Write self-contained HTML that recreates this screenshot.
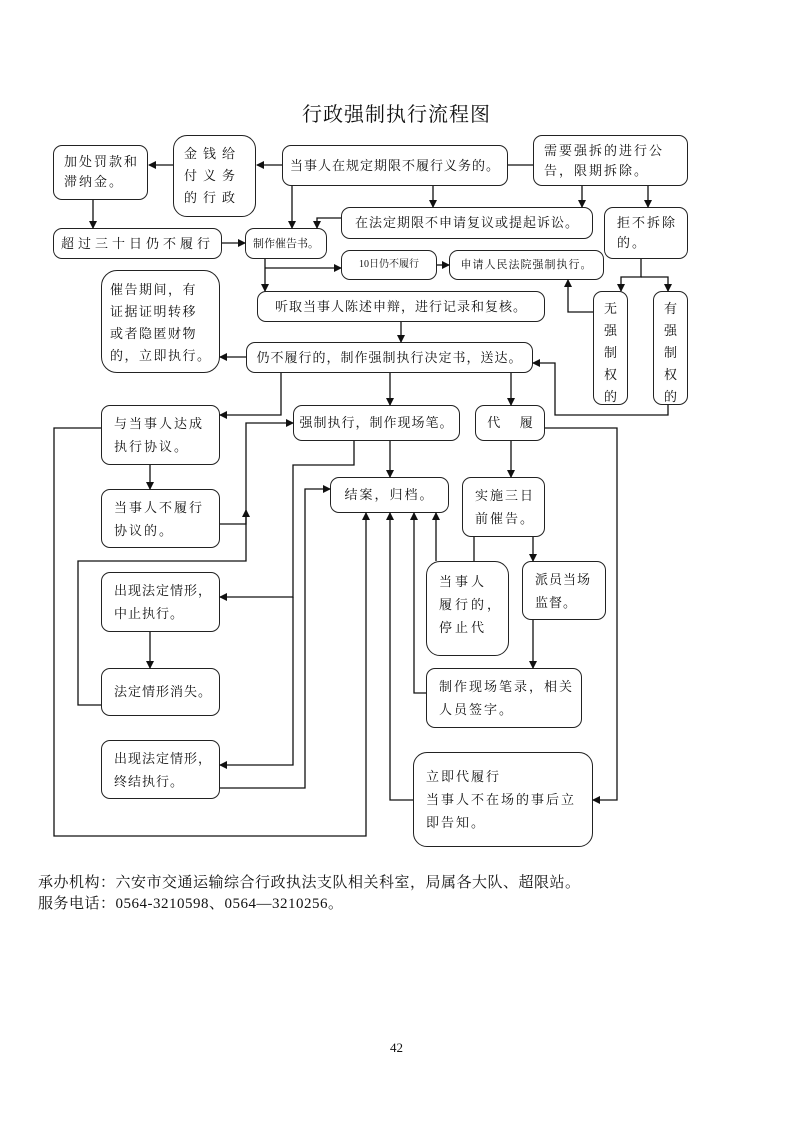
<!DOCTYPE html>
<html><head><meta charset="utf-8"><style>
body{margin:0;width:793px;height:1122px;background:#fff;position:relative;font-family:"Liberation Serif","Noto Serif CJK SC","Noto Sans CJK SC",serif;color:#111;overflow:hidden}
.b{position:absolute;border:1.3px solid #222;border-radius:9px;box-sizing:border-box;font-size:13px;line-height:20px;padding:4px 8px;letter-spacing:1px;white-space:nowrap}
.c{display:flex;align-items:center;justify-content:center;text-align:center}
svg{position:absolute;left:0;top:0}
</style></head><body>
<div style="position:absolute;left:0;width:793px;top:98px;text-align:center;font-size:20px;letter-spacing:1px">行政强制执行流程图</div>

<div class="b" style="left:53px;top:145px;width:95px;height:55px;padding:6px 10px;letter-spacing:2px">加处罚款和<br>滞纳金。</div>
<div class="b" style="left:173px;top:135px;width:83px;height:82px;padding:7px 10px;letter-spacing:6px;line-height:22px;border-radius:14px">金钱给<br>付义务<br>的行政</div>
<div class="b c" style="left:282px;top:145px;width:226px;height:41px">当事人在规定期限不履行义务的。</div>
<div class="b" style="left:533px;top:135px;width:155px;height:51px;padding:5px 10px;line-height:20px;letter-spacing:2px">需要强拆的进行公<br>告，限期拆除。</div>
<div class="b c" style="left:341px;top:207px;width:252px;height:32px">在法定期限不申请复议或提起诉讼。</div>
<div class="b" style="left:604px;top:207px;width:84px;height:52px;padding:5px 12px;letter-spacing:2px">拒不拆除<br>的。</div>
<div class="b c" style="left:53px;top:228px;width:169px;height:31px;letter-spacing:4px">超过三十日仍不履行</div>
<div class="b c" style="left:245px;top:228px;width:82px;height:31px;font-size:11px;letter-spacing:0">制作催告书。</div>
<div class="b c" style="left:341px;top:250px;width:96px;height:30px;font-size:10px;letter-spacing:0">10日仍不履行</div>
<div class="b c" style="left:449px;top:250px;width:155px;height:30px;font-size:11px;letter-spacing:1px">申请人民法院强制执行。</div>
<div class="b" style="left:593px;top:291px;width:35px;height:114px;padding:6px 10px;line-height:22px">无<br>强<br>制<br>权<br>的</div>
<div class="b" style="left:653px;top:291px;width:35px;height:114px;padding:6px 10px;line-height:22px">有<br>强<br>制<br>权<br>的</div>
<div class="b" style="left:101px;top:270px;width:119px;height:103px;padding:8px 8px;line-height:22px;letter-spacing:1.5px;border-radius:16px">催告期间，有<br>证据证明转移<br>或者隐匿财物<br>的，立即执行。</div>
<div class="b c" style="left:257px;top:291px;width:288px;height:31px">听取当事人陈述申辩，进行记录和复核。</div>
<div class="b c" style="left:246px;top:342px;width:287px;height:31px">仍不履行的，制作强制执行决定书，送达。</div>
<div class="b" style="left:101px;top:405px;width:119px;height:60px;padding:6px 12px;line-height:23px;letter-spacing:2px">与当事人达成<br>执行协议。</div>
<div class="b c" style="left:293px;top:405px;width:167px;height:36px">强制执行，制作现场笔。</div>
<div class="b c" style="left:475px;top:405px;width:70px;height:36px;letter-spacing:0">代&nbsp;&nbsp;&nbsp;&nbsp;&nbsp;&nbsp;履</div>
<div class="b c" style="left:330px;top:477px;width:119px;height:36px;letter-spacing:2px">结案，归档。</div>
<div class="b" style="left:462px;top:477px;width:83px;height:60px;padding:6px 12px;line-height:23px;letter-spacing:2px">实施三日<br>前催告。</div>
<div class="b" style="left:101px;top:489px;width:119px;height:59px;padding:6px 12px;line-height:23px;letter-spacing:2px">当事人不履行<br>协议的。</div>
<div class="b" style="left:101px;top:572px;width:119px;height:60px;padding:6px 12px;line-height:23px">出现法定情形，<br>中止执行。</div>
<div class="b" style="left:426px;top:561px;width:83px;height:95px;padding:8px 12px;line-height:23px;letter-spacing:3px;border-radius:14px">当事人<br>履行的，<br>停止代</div>
<div class="b" style="left:522px;top:561px;width:84px;height:59px;padding:6px 12px;line-height:23px;letter-spacing:1px">派员当场<br>监督。</div>
<div class="b" style="left:101px;top:668px;width:119px;height:48px;padding:13px 12px;line-height:20px">法定情形消失。</div>
<div class="b" style="left:426px;top:668px;width:156px;height:60px;padding:6px 12px;line-height:23px;letter-spacing:2px">制作现场笔录，相关<br>人员签字。</div>
<div class="b" style="left:101px;top:740px;width:119px;height:59px;padding:6px 12px;line-height:23px">出现法定情形，<br>终结执行。</div>
<div class="b" style="left:413px;top:752px;width:180px;height:95px;padding:12px 12px;line-height:23px;letter-spacing:2px;border-radius:14px">立即代履行<br>当事人不在场的事后立<br>即告知。</div>

<svg width="793" height="1122">
<defs><marker id="a" markerWidth="8" markerHeight="8" refX="7" refY="4" orient="auto" markerUnits="userSpaceOnUse"><path d="M0,0 L8,4 L0,8z" fill="#111"/></marker></defs>
<g stroke="#111" stroke-width="1.3" fill="none" marker-end="url(#a)">
<path d="M282,165H257"/><path d="M173,165H149"/><path d="M93,200V228"/><path d="M222,243H245"/>
<path d="M292,186V228"/><path d="M341,218H317V228"/><path d="M433,186V207"/><path d="M582,186V207"/><path d="M648,186V207"/>
<path d="M265,259V291"/><path d="M265,268H341"/><path d="M437,265H449"/>
<path d="M641,259V277H621V291"/><path d="M641,277H668V291"/>
<path d="M593,312H568V280"/><path d="M668,405V415H555V363H533"/>
<path d="M401,322V342"/><path d="M246,357H220"/><path d="M281,373V415H220"/>
<path d="M390,373V405"/><path d="M511,373V405"/><path d="M390,441V477"/>
<path d="M354,441V465H293V597H220"/><path d="M293,597V765H220"/>
<path d="M150,465V489"/><path d="M220,524H246V423H293"/><path d="M101,705H78V561H246V510"/>
<path d="M150,632V668"/><path d="M220,788H305V489H330"/>
<path d="M101,428H54V836H366V513"/><path d="M413,800H390V513"/><path d="M426,693H414V513"/>
<path d="M436,561V513"/><path d="M533,537V561"/><path d="M533,620V668"/><path d="M511,441V477"/>
<path d="M545,428H617V800H593"/>
</g>
<g stroke="#111" stroke-width="1.3" fill="none"><path d="M508,165H533"/><path d="M474,537V561"/></g>
</svg>

<div style="position:absolute;left:38px;top:873px;font-size:15px;line-height:21px;letter-spacing:0.5px">承办机构：六安市交通运输综合行政执法支队相关科室，局属各大队、超限站。<br>服务电话：0564-3210598、0564—3210256。</div>
<div style="position:absolute;left:0;width:793px;top:1040px;text-align:center;font-size:13px">42</div>
</body></html>
